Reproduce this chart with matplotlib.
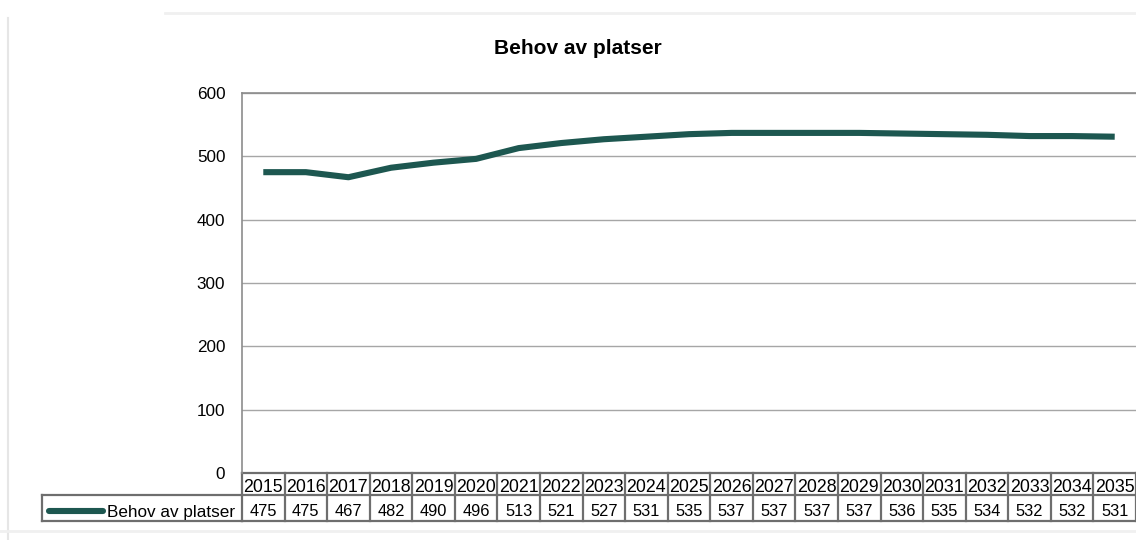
import matplotlib
matplotlib.use("Agg")
import matplotlib.pyplot as plt
from matplotlib.transforms import blended_transform_factory
from matplotlib.lines import Line2D

plt.rcParams['font.family'] = ['Liberation Sans', 'DejaVu Sans']

years = ["2015", "2016", "2017", "2018", "2019", "2020", "2021", "2022", "2023", "2024",
         "2025", "2026", "2027", "2028", "2029", "2030", "2031", "2032", "2033", "2034", "2035"]
values = [475, 475, 467, 482, 490, 496, 513, 521, 527, 531,
          535, 537, 537, 537, 537, 536, 535, 534, 532, 532, 531]
series_name = "Behov av platser"
title = "Behov av platser"
yticks = [0, 100, 200, 300, 400, 500, 600]

W, H = 1136, 540
fig = plt.figure(figsize=(W / 100, H / 100), dpi=100)
fig.patch.set_facecolor("white")

left, right, top, bottom = 242, 1136, 93, 473
ax = fig.add_axes([left / W, 1 - bottom / H, (right - left) / W, (bottom - top) / H])
n = len(years)
x = list(range(n))
line_color = "#1d5750"
ax.plot(x, values, color=line_color, linewidth=4.4, solid_capstyle="butt", solid_joinstyle="round")
ax.set_xlim(-0.5, n - 0.5)
ax.set_ylim(0, 600)
ax.set_yticks(yticks)
ax.set_yticklabels([str(v) for v in yticks], fontsize=12.3, color="#000000")
ax.tick_params(axis="y", length=0, pad=12)
ax.set_xticks([])
for v in yticks[1:]:
    ax.axhline(v, color="#a6a6a6", linewidth=1.0, zorder=0)
for s in ["right", "bottom"]:
    ax.spines[s].set_visible(False)
ax.spines["top"].set_color("#8c8c8c")
ax.spines["left"].set_color("#8c8c8c")
ax.spines["top"].set_linewidth(1.2)
ax.spines["left"].set_linewidth(1.2)

fig.text(578 / W, 1 - 54.3 / H, title, ha="center", va="baseline", fontsize=15, fontweight="bold")

# data table
trans = blended_transform_factory(ax.transData, fig.transFigure)
ftr = fig.transFigure
def fy(py):
    return 1 - py / H

row1_top, row1_bot, row2_bot = 473, 495, 521
border = "#6e6e6e"
lw = 1.6
for i, (yr, val) in enumerate(zip(years, values)):
    ax.text(i, fy(485), yr, transform=trans, ha="center", va="center_baseline",
            fontsize=12.8, clip_on=False)
    ax.text(i, fy(510.5), str(val), transform=trans, ha="center", va="center_baseline",
            fontsize=11.8, clip_on=False)
# vertical lines
for i in range(n + 1):
    xe = i - 0.5
    ax.add_line(Line2D([xe, xe], [fy(row1_top), fy(row2_bot)], transform=trans, color=border,
                       linewidth=lw, clip_on=False))
# horizontal lines
for py in [row1_top, row1_bot, row2_bot]:
    ax.add_line(Line2D([-0.5, n - 0.5], [fy(py), fy(py)], transform=trans, color=border,
                       linewidth=lw, clip_on=False))
# legend cell
lx0 = 42 / W
fig.add_artist(Line2D([lx0, left / W], [fy(row1_bot), fy(row1_bot)], transform=ftr, color=border, linewidth=lw))
fig.add_artist(Line2D([lx0, left / W], [fy(row2_bot), fy(row2_bot)], transform=ftr, color=border, linewidth=lw))
fig.add_artist(Line2D([lx0, lx0], [fy(row1_bot), fy(row2_bot)], transform=ftr, color=border, linewidth=lw))
fig.add_artist(Line2D([49 / W, 103 / W], [fy(510.5), fy(510.5)], transform=ftr, color=line_color,
                      linewidth=4.4, solid_capstyle="round"))
fig.text(107 / W, fy(510.5), series_name, ha="left", va="center_baseline", fontsize=12.3)

# faint frame artifacts
fig.add_artist(Line2D([8 / W, 8 / W], [fy(18), fy(540)], transform=ftr, color="#e6e6e6", linewidth=1.5))
fig.add_artist(Line2D([165 / W, 1], [fy(13), fy(13)], transform=ftr, color="#f0f0f0", linewidth=2))
fig.add_artist(Line2D([0, 1], [fy(531), fy(531)], transform=ftr, color="#f0f0f0", linewidth=2))

fig.savefig("out.png", dpi=100, facecolor="white")
